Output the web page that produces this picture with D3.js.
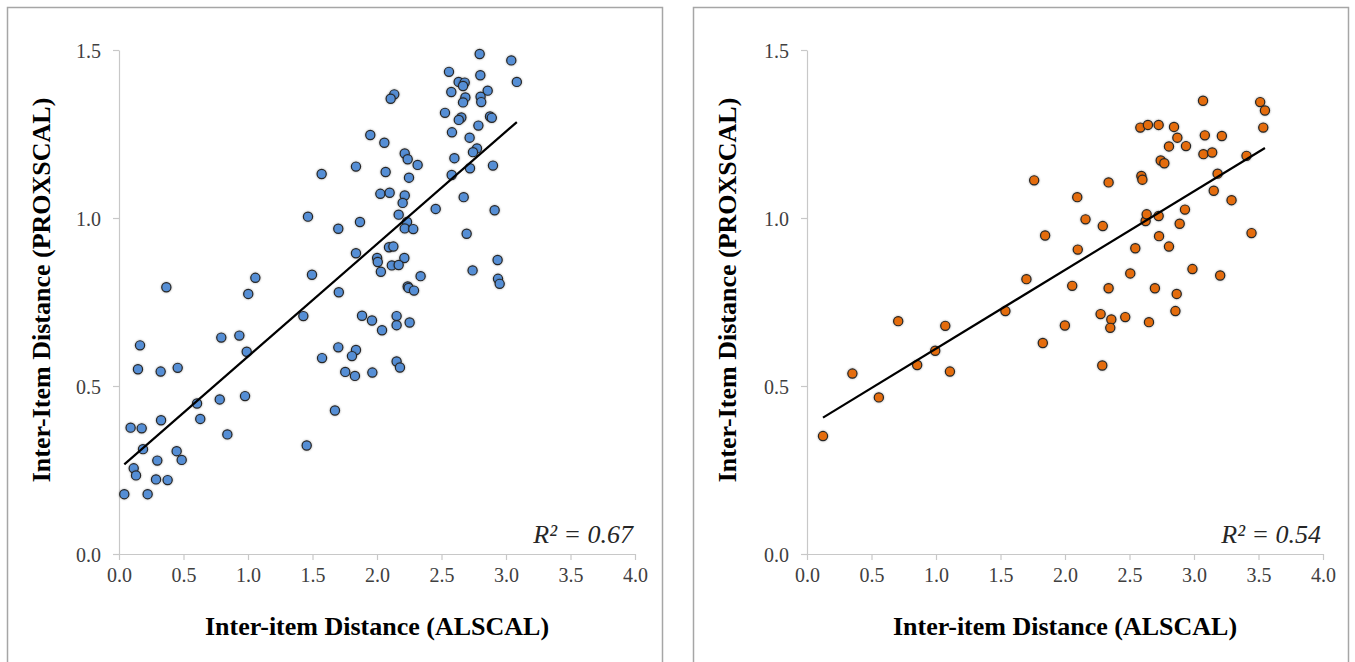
<!DOCTYPE html>
<html>
<head>
<meta charset="utf-8">
<script src="https://cdn.jsdelivr.net/npm/d3@7"></script>
<style>
  body { margin: 0; background: #fff; }
  svg { display: block; }
</style>
</head>
<body>
<script>
const width = 1355;
const height = 662;

// left panel: ALSCAL vs PROXSCAL (blue)
const leftX = [0.041, 0.222, 0.114, 0.132, 0.287, 0.377, 0.297, 0.486, 0.447, 0.186,
  0.090, 0.176, 0.326, 0.630, 0.840, 0.605, 0.781, 0.977, 1.455, 1.674,
  0.163, 0.147, 0.323, 0.455, 0.793, 0.933, 0.990, 1.574, 1.700, 1.429,
  0.367, 1.002, 1.057, 1.496, 1.465, 1.571, 1.700, 1.704,
  1.884, 1.961, 2.039, 2.152, 2.152, 2.253, 1.837, 1.806, 2.152, 2.178, 1.754, 1.829, 1.964,
  2.796, 3.041, 2.558, 2.801, 2.633, 2.680, 2.667, 3.084, 2.576, 2.858,
  2.685, 2.803, 2.808, 2.667, 2.134, 2.106, 2.527, 2.654, 2.634, 2.876,
  2.890, 2.786, 2.581, 2.718, 1.948, 2.057, 2.775, 2.744, 2.215, 2.238,
  2.600, 2.315, 2.899, 1.837, 2.067, 2.248, 2.579, 2.721, 2.026, 2.098,
  2.215, 2.199, 2.672, 2.455, 2.912, 2.168, 1.868, 2.233, 2.215, 2.281,
  2.695, 1.837, 2.093, 2.127, 2.001, 2.006, 2.212, 2.115, 2.168, 2.030,
  2.338, 2.935, 2.741, 2.938, 2.951, 2.238, 2.245, 2.287];
const leftY = [0.178, 0.178, 0.255, 0.234, 0.222, 0.220, 0.278, 0.280, 0.306, 0.312,
  0.376, 0.374, 0.398, 0.402, 0.356, 0.448, 0.460, 0.470, 0.323, 0.427,
  0.621, 0.550, 0.543, 0.554, 0.644, 0.650, 0.602, 0.583, 0.615, 0.708,
  0.794, 0.774, 0.822, 0.831, 1.004, 1.131, 0.968, 0.779,
  0.709, 0.695, 0.666, 0.708, 0.681, 0.689, 0.607, 0.589, 0.573, 0.555, 0.542, 0.530, 0.540,
  1.488, 1.469, 1.435, 1.425, 1.405, 1.403, 1.393, 1.405, 1.375, 1.379,
  1.359, 1.361, 1.345, 1.344, 1.368, 1.355, 1.313, 1.299, 1.292, 1.302,
  1.298, 1.275, 1.255, 1.239, 1.247, 1.224, 1.207, 1.196, 1.192, 1.175,
  1.178, 1.158, 1.156, 1.153, 1.137, 1.120, 1.128, 1.148, 1.072, 1.075,
  1.067, 1.045, 1.062, 1.027, 1.023, 1.010, 0.988, 0.988, 0.969, 0.967,
  0.953, 0.895, 0.913, 0.915, 0.881, 0.869, 0.881, 0.859, 0.860, 0.840,
  0.827, 0.875, 0.844, 0.819, 0.804, 0.796, 0.792, 0.784];

// right panel (orange)
const rightX = [0.124, 0.352, 0.557, 0.707, 0.854, 0.994, 1.072, 1.108, 1.538, 1.701,
  1.761, 1.828, 1.846, 1.999, 2.056, 2.095, 2.099, 2.159, 2.276, 2.289,
  2.293, 2.338, 2.338, 2.359, 2.351, 2.467, 2.506, 2.545, 2.584, 2.592,
  2.600, 2.625, 2.633, 2.643, 2.651, 2.697, 2.726, 2.726, 2.729, 2.742,
  2.770, 2.806, 2.806, 2.845, 2.856, 2.866, 2.871, 2.889, 2.930, 2.938,
  2.988, 3.070, 3.073, 3.084, 3.141, 3.153, 3.183, 3.203, 3.216, 3.291,
  3.407, 3.446, 3.513, 3.537, 3.550];
const rightY = [0.351, 0.537, 0.466, 0.693, 0.5625, 0.605, 0.679, 0.543, 0.723, 0.818,
  1.112, 0.628, 0.948, 0.680, 0.798, 1.062, 0.906, 0.996, 0.714, 0.561,
  0.976, 1.106, 0.791, 0.698, 0.673, 0.705, 0.835, 0.910, 1.269, 1.125,
  1.114, 0.991, 1.011, 1.277, 0.690, 0.791, 1.277, 1.006, 0.946, 1.171,
  1.163, 1.213, 0.915, 1.271, 0.723, 0.774, 1.239, 0.983, 1.025, 1.214,
  0.848, 1.349, 1.190, 1.246, 1.195, 1.081, 1.132, 0.829, 1.244, 1.053,
  1.185, 0.955, 1.345, 1.269, 1.320];

const xTicks = [0, 0.5, 1, 1.5, 2, 2.5, 3, 3.5, 4];
const yTicks = [0, 0.5, 1, 1.5];
const r2Labels = ["0.67", "0.54"];

const svg = d3.select("body")
    .append("svg")
    .attr("width", width)
    .attr("height", height);

svg.append("rect").attr("width", width).attr("height", height).attr("fill", "#fff");

const defs = svg.append("defs");
const glow = defs.append("filter").attr("id", "glow")
    .attr("x", "-50%").attr("y", "-50%").attr("width", "200%").attr("height", "200%");
glow.append("feDropShadow")
    .attr("dx", 0).attr("dy", 0)
    .attr("stdDeviation", 0.9)
    .attr("flood-color", "#000")
    .attr("flood-opacity", 0.35);

const panels = [
    { left: 7, x0: 119, xs: leftX, ys: leftY, fill: "#558ED5", r2: r2Labels[0] },
    { left: 693, x0: 807, xs: rightX, ys: rightY, fill: "#E46C0A", r2: r2Labels[1] }
];

panels.forEach(p => {
    const g = svg.append("g");

    // panel frame
    g.append("rect")
        .attr("x", p.left + 0.5)
        .attr("y", 7.5)
        .attr("width", 655)
        .attr("height", 700)
        .attr("fill", "none")
        .attr("stroke", "#a6a6a6")
        .attr("stroke-width", 1.5);

    const x = d3.scaleLinear().domain([0, 4]).range([p.x0, p.x0 + 516]);
    const y = d3.scaleLinear().domain([0, 1.5]).range([554, 50]);

    const xAxis = g.append("g")
        .attr("transform", "translate(0,554)")
        .call(d3.axisBottom(x).tickValues(xTicks).tickFormat(d3.format(".1f")).tickSize(6).tickSizeOuter(0).tickPadding(8));
    const yAxis = g.append("g")
        .attr("transform", `translate(${p.x0},0)`)
        .call(d3.axisLeft(y).tickValues(yTicks).tickFormat(d3.format(".1f")).tickSize(6).tickSizeOuter(0).tickPadding(12));

    [xAxis, yAxis].forEach(a => {
        a.select(".domain").attr("stroke", "#c8c8c8").attr("stroke-width", 1.2);
        a.selectAll(".tick line").attr("stroke", "#c8c8c8").attr("stroke-width", 1.2);
        a.selectAll(".tick text")
            .attr("fill", "#404040")
            .style("font-family", "'Liberation Serif', 'Times New Roman', serif")
            .style("font-size", "20px");
    });
    yAxis.selectAll(".tick text").attr("dy", "0.35em");

    // points
    const pts = p.xs.map((v, i) => [v, p.ys[i]]);
    g.append("g")
        .selectAll("circle")
        .data(pts)
        .enter()
        .append("circle")
        .attr("cx", d => x(d[0]))
        .attr("cy", d => y(d[1]))
        .attr("r", 4.6)
        .attr("fill", p.fill)
        .attr("stroke", "#262626")
        .attr("stroke-width", 1.2)
        .attr("filter", "url(#glow)");

    // linear trendline
    const mx = d3.mean(p.xs), my = d3.mean(p.ys);
    let sxy = 0, sxx = 0;
    p.xs.forEach((v, i) => { sxy += (v - mx) * (p.ys[i] - my); sxx += (v - mx) * (v - mx); });
    const slope = sxy / sxx;
    const icpt = my - slope * mx;
    const [xmin, xmax] = d3.extent(p.xs);
    g.append("line")
        .attr("x1", x(xmin)).attr("y1", y(icpt + slope * xmin))
        .attr("x2", x(xmax)).attr("y2", y(icpt + slope * xmax))
        .attr("stroke", "#000")
        .attr("stroke-width", 2.2);

    // R squared label
    const r2 = g.append("text")
        .attr("x", p.x0 + 514)
        .attr("y", 543)
        .attr("text-anchor", "end")
        .style("font-family", "'Liberation Serif', 'Times New Roman', serif")
        .style("font-style", "italic")
        .style("font-size", "26px")
        .attr("fill", "#262626");
    r2.append("tspan").text("R² = " + p.r2);

    // axis titles
    g.append("text")
        .attr("x", p.x0 + 258)
        .attr("y", 635)
        .attr("text-anchor", "middle")
        .style("font-family", "'Liberation Serif', 'Times New Roman', serif")
        .style("font-weight", "bold")
        .style("font-size", "26px")
        .text("Inter-item Distance (ALSCAL)");

    g.append("text")
        .attr("transform", `translate(${p.left + 43},290) rotate(-90)`)
        .attr("text-anchor", "middle")
        .style("font-family", "'Liberation Serif', 'Times New Roman', serif")
        .style("font-weight", "bold")
        .style("font-size", "26px")
        .text("Inter-Item Distance (PROXSCAL)");
});
</script>
</body>
</html>
